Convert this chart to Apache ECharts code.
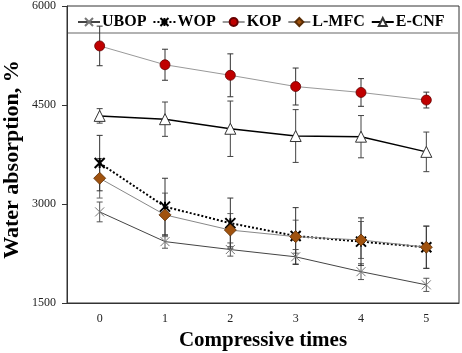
<!DOCTYPE html>
<html><head><meta charset="utf-8">
<script src="https://cdn.jsdelivr.net/npm/echarts@6/dist/echarts.min.js"></script>
<style>html,body{margin:0;padding:0;background:#fff}#c{width:462px;height:353px}</style>
</head><body><div id="c"></div>
<script>
const categories = ['0','1','2','3','4','5'];
const yTicks = [1500, 3000, 4500, 6000];
const UBOP = [2880, 2430, 2310, 2200, 1975, 1775];
const UBOP_err = [150, 100, 100, 110, 120, 100];
const WOP = [3620, 2960, 2710, 2515, 2430, 2345];
const WOP_err = [420, 430, 380, 430, 360, 320];
const KOP = [5395, 5110, 4950, 4780, 4690, 4575];
const KOP_err = [300, 235, 325, 280, 210, 120];
const LMFC = [3390, 2835, 2605, 2505, 2455, 2345];
const LMFC_err = [300, 330, 250, 250, 280, 320];
const ECNF = [4335, 4285, 4140, 4030, 4020, 3790];
const ECNF_err = [110, 260, 420, 400, 320, 300];

const FONT = '"Liberation Serif","Times New Roman",serif';

function errSeries(vals, errs, color) {
  return {
    type: 'custom', silent: true, z: 1,
    data: vals.map((v, i) => [i, v - errs[i], v + errs[i]]),
    renderItem: function (params, api) {
      const lo = api.coord([api.value(0), api.value(1)]);
      const hi = api.coord([api.value(0), api.value(2)]);
      const w = 3;
      const st = { stroke: color, lineWidth: 1 };
      return { type: 'group', children: [
        { type: 'line', shape: { x1: lo[0], y1: lo[1], x2: hi[0], y2: hi[1] }, style: st },
        { type: 'line', shape: { x1: lo[0] - w, y1: lo[1], x2: lo[0] + w, y2: lo[1] }, style: st },
        { type: 'line', shape: { x1: hi[0] - w, y1: hi[1], x2: hi[0] + w, y2: hi[1] }, style: st }
      ]};
    }
  };
}

const chart = echarts.init(document.getElementById('c'));
chart.setOption({
  backgroundColor: '#fff',
  animation: false,
  grid: { left: 67, right: 3, top: 6, bottom: 50, show: true, borderColor: '#333', borderWidth: 1,
          containLabel: false, outerBoundsMode: 'none' },
  legend: {
    top: 14, left: 77, width: 400, padding: 0, itemWidth: 22, itemHeight: 10, itemGap: 6,
    textStyle: { fontFamily: FONT, fontWeight: 'bold', fontSize: 16, color: '#000', padding: [0,0,0,-3] },
    data: ['UBOP', 'WOP', 'KOP', 'L-MFC', 'E-CNF']
  },
  graphic: [{ type: 'line', shape: { x1: 67, y1: 33, x2: 459, y2: 33 }, style: { stroke: '#999', lineWidth: 1.5 } }],
  xAxis: {
    type: 'category', data: categories, boundaryGap: true,
    name: 'Compressive times', nameLocation: 'middle', nameGap: 27, nameMoveOverlap: false,
    nameTextStyle: { fontFamily: FONT, fontWeight: 'bold', fontSize: 21, color: '#000' },
    axisLine: { lineStyle: { color: '#333' } },
    axisTick: { alignWithLabel: true, length: 4, lineStyle: { color: '#333' } },
    axisLabel: { fontFamily: FONT, fontSize: 12, color: '#222', margin: 10 },
    splitLine: { show: false }
  },
  yAxis: {
    type: 'value', min: 1500, max: 6000, interval: 1500,
    name: 'Water absorption, %', nameLocation: 'middle', nameGap: 44, nameMoveOverlap: false,
    nameTextStyle: { fontFamily: FONT, fontWeight: 'bold', fontSize: 22, color: '#000', padding: [0, 10, 0, 0] },
    axisLine: { show: true, lineStyle: { color: '#333' } },
    axisTick: { show: true, length: 5, lineStyle: { color: '#333' } },
    axisLabel: { fontFamily: FONT, fontSize: 12, color: '#222', margin: 11,
      formatter: v => yTicks.includes(v) ? String(v) : '' },
    splitLine: { show: false }
  },
  series: [
    errSeries(UBOP, UBOP_err, '#555'),
    errSeries(LMFC, LMFC_err, '#666'),
    errSeries(WOP, WOP_err, '#333'),
    errSeries(ECNF, ECNF_err, '#444'),
    errSeries(KOP, KOP_err, '#333'),
    { name: 'UBOP', type: 'line', data: UBOP, z: 3,
      symbol: 'path://M0,0L10,10M10,0L0,10', symbolSize: 9,
      lineStyle: { color: '#444', width: 1 },
      itemStyle: { color: '#777', borderColor: '#777', borderWidth: 1 } },
    { name: 'WOP', type: 'line', data: WOP, z: 3,
      symbol: 'path://M0,0L10,10M10,0L0,10M5,0L5,10', symbolSize: 10,
      lineStyle: { color: '#000', width: 2, type: 'dotted' },
      itemStyle: { color: '#000', borderColor: '#000', borderWidth: 2 } },
    { name: 'KOP', type: 'line', data: KOP, z: 3,
      symbol: 'circle', symbolSize: 10,
      lineStyle: { color: '#999', width: 1 },
      itemStyle: { color: '#C00000', borderColor: '#600', borderWidth: 0.8 } },
    { name: 'L-MFC', type: 'line', data: LMFC, z: 3,
      symbol: 'diamond', symbolSize: 12,
      lineStyle: { color: '#888', width: 1 },
      itemStyle: { color: '#A0520E', borderColor: '#5a2d05', borderWidth: 0.8 } },
    { name: 'E-CNF', type: 'line', data: ECNF, z: 3,
      symbol: 'triangle', symbolSize: 11,
      lineStyle: { color: '#000', width: 1.5 },
      itemStyle: { color: '#fff', borderColor: '#333', borderWidth: 1 } }
  ]
});
</script></body></html>
